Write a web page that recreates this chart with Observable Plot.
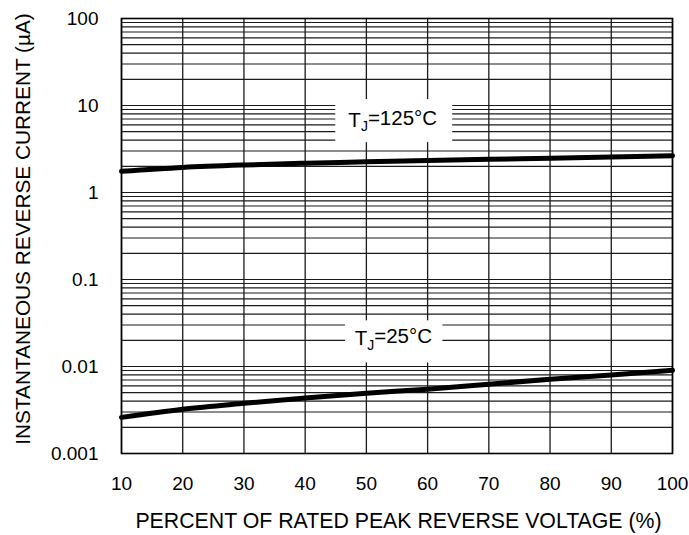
<!DOCTYPE html>
<html>
<head>
<meta charset="utf-8">
<script src="https://cdn.jsdelivr.net/npm/d3@7"></script>
<script src="https://cdn.jsdelivr.net/npm/@observablehq/plot@0.6"></script>
<style>
  html, body { margin: 0; padding: 0; background: #fff; }
  #chart svg { display: block; }
</style>
</head>
<body>
<div id="chart"></div>
<script>
// ---- data ----
const percent = [10, 20, 30, 40, 50, 60, 70, 80, 90, 100];
const current125 = [1.75, 1.94, 2.07, 2.17, 2.25, 2.33, 2.41, 2.48, 2.56, 2.65];
const current25 = [0.0026, 0.00323, 0.00378, 0.00435, 0.00493, 0.00548, 0.00626, 0.00714, 0.0080, 0.00906];

const xTicks = [10, 20, 30, 40, 50, 60, 70, 80, 90, 100];
const yTickValues = [0.001, 0.01, 0.1, 1, 10, 100];
const yTickLabels = ["0.001", "0.01", "0.1", "1", "10", "100"];
const decades = [0.001, 0.01, 0.1, 1, 10];
const mantissas = [1, 2, 3, 4, 5, 6, 7, 8, 9];

const labelText = ["T_J=125°C", "T_J=25°C"];
const labelX = [54.3, 54.4];
const labelY = [6.7, 0.0208];
const boxX1 = [45.0, 46.6];
const boxX2 = [64.1, 62.5];
const boxY1 = [3.74, 0.011];
const boxY2 = [11.7, 0.0335];

const xTitle = "PERCENT OF RATED PEAK REVERSE VOLTAGE (%)";
const yTitle = "INSTANTANEOUS REVERSE CURRENT (µA)";

// ---- derived tables ----
const gridY = decades.flatMap(d => mantissas.map(m => d * m)).concat([100]);
const series125 = percent.map((p, i) => ({x: p, y: current125[i]}));
const series25 = percent.map((p, i) => ({x: p, y: current25[i]}));
const labels = labelText.map((t, i) => ({t, x: labelX[i], y: labelY[i], x1: boxX1[i], x2: boxX2[i], y1: boxY1[i], y2: boxY2[i]}));

const chart = Plot.plot({
  width: 689,
  height: 535,
  marginLeft: 121,
  marginRight: 17,
  marginTop: 18,
  marginBottom: 82,
  style: {fontFamily: "'Liberation Sans', Arial, sans-serif", fontSize: "19px", color: "#000", background: "#fff"},
  x: {domain: [10, 100], ticks: xTicks, tickFormat: d => String(d), tickSize: 0, tickPadding: 23, label: null},
  y: {type: "log", domain: [0.001, 100], ticks: yTickValues, tickFormat: d => yTickLabels[yTickValues.indexOf(d)], tickSize: 0, tickPadding: 23, label: null},
  marks: [
    Plot.ruleY(gridY, {stroke: "#1a1a1a", strokeWidth: 1.2}),
    Plot.ruleX(xTicks, {stroke: "#1a1a1a", strokeWidth: 1.3}),
    Plot.rect(labels, {x1: "x1", x2: "x2", y1: "y1", y2: "y2", fill: "white"}),
    Plot.frame({stroke: "#000", strokeWidth: 1.6}),
    Plot.line(series125, {x: "x", y: "y", stroke: "#000", strokeWidth: 5, curve: "monotone-x"}),
    Plot.line(series25, {x: "x", y: "y", stroke: "#000", strokeWidth: 5, curve: "monotone-x"}),
    Plot.text(labels, {x: "x", y: "y", text: "t", fontSize: 20.5, fill: "#000"}),
    Plot.text([xTitle], {frameAnchor: "bottom", textAnchor: "middle", lineAnchor: "middle", dx: 1.5, dy: 67.5, fontSize: 21.3, fill: "#000"}),
    Plot.text([yTitle], {frameAnchor: "left", textAnchor: "middle", lineAnchor: "middle", rotate: -90, dx: -98, dy: -7, fontSize: 20.8, fill: "#000"})
  ]
});

// subscript J in the annotation labels
d3.select(chart).selectAll("text").each(function() {
  const el = d3.select(this);
  const s = el.text();
  if (s.startsWith("T_J")) {
    const rest = s.slice(3);
    el.text(null);
    el.append("tspan").text("T");
    el.append("tspan").attr("dy", "0.3em").attr("font-size", "14px").text("J");
    el.append("tspan").attr("dy", "-0.3em").text(rest);
  }
});

document.getElementById("chart").appendChild(chart);
</script>
</body>
</html>
